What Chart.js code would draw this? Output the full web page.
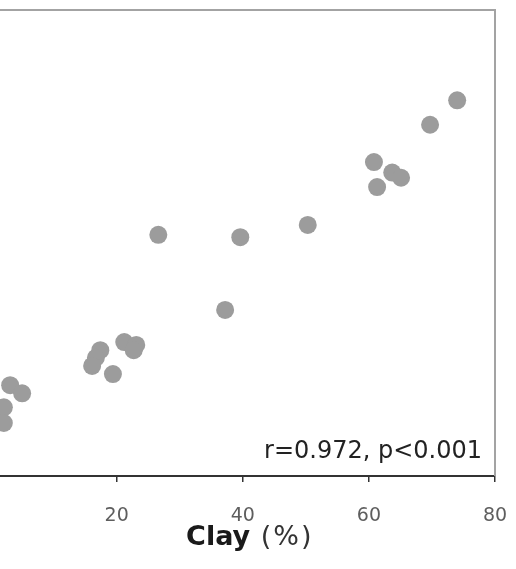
<!DOCTYPE html>
<html>
<head>
<meta charset="utf-8">
<script src="https://cdn.jsdelivr.net/npm/chart.js@4"></script>
<style>
  html, body { margin: 0; padding: 0; background: #fff; overflow: hidden; }
  /* the reference is cropped: the y axis sits off the left edge */
  #wrap { position: absolute; left: -100px; top: 0; width: 616px; height: 569px; }
</style>
</head>
<body>
<div id="wrap"><canvas id="clay-scatter"></canvas></div>
<script>
const clayValues = [74.0, 69.7, 60.8, 63.7, 65.1, 61.3, 26.6, 39.6, 50.3, 37.2, 21.2, 23.1, 22.7, 17.4, 16.7, 16.1, 19.4, 3.1, 5.0, 2.1, 2.1];
const otherValues = [64.5, 60.3, 53.9, 52.1, 51.2, 49.6, 41.4, 41.0, 43.1, 28.5, 23.0, 22.5, 21.6, 21.6, 20.3, 18.9, 17.5, 15.6, 14.2, 11.8, 9.1];
const xTicks = [0, 20, 40, 60, 80];
const xTitle = 'Clay';
const xUnit = ' (%)';
const statsText = 'r=0.972, p<0.001';

window.addEventListener('load', function() {
  const points = clayValues.map((x, i) => ({ x: x, y: otherValues[i] }));

  const framePlugin = {
    id: 'frame',
    beforeDatasetsDraw(chart) {
      const { ctx, chartArea: a } = chart;
      ctx.save();
      ctx.strokeStyle = '#a3a3a3';
      ctx.lineWidth = 2;
      ctx.beginPath();
      ctx.moveTo(a.left, a.top);
      ctx.lineTo(a.right, a.top);
      ctx.lineTo(a.right, a.bottom);
      ctx.stroke();
      ctx.restore();
    },
    afterDraw(chart) {
      const { ctx, chartArea: a } = chart;
      ctx.save();
      // stats label, bottom right inside the box
      ctx.fillStyle = '#222';
      ctx.font = '24px "DejaVu Sans"';
      ctx.textAlign = 'right';
      ctx.textBaseline = 'alphabetic';
      ctx.fillText(statsText, a.right - 13, a.bottom - 18);

      // axis title: bold name + plain unit
      ctx.textAlign = 'left';
      ctx.font = 'bold 27px "DejaVu Sans"';
      const w1 = ctx.measureText(xTitle).width;
      ctx.font = '27px "DejaVu Sans"';
      ctx.letterSpacing = '2px';
      const w2 = ctx.measureText(xUnit).width;
      const cx = (a.left + a.right) / 2 + 7;
      const start = cx - (w1 + w2) / 2;
      const base = a.bottom + 69;
      ctx.fillStyle = '#333';
      ctx.fillText(xUnit, start + w1, base);
      ctx.letterSpacing = '0px';
      ctx.fillStyle = '#1a1a1a';
      ctx.font = 'bold 27px "DejaVu Sans"';
      ctx.fillText(xTitle, start, base);
      ctx.restore();
    }
  };

  const ctx = document.getElementById('clay-scatter').getContext('2d');
  new Chart(ctx, {
    type: 'scatter',
    data: {
      datasets: [{
        label: 'samples',
        data: points,
        backgroundColor: '#9c9c9c',
        borderWidth: 0,
        pointRadius: 9,
        pointHoverRadius: 9,
      }],
    },
    options: {
      responsive: true,
      maintainAspectRatio: false,
      animation: false,
      layout: {
        padding: { left: 90.6, right: 21, top: 10, bottom: 0 },
      },
      scales: {
        x: {
          type: 'linear',
          position: 'bottom',
          min: 0,
          max: 80,
          afterBuildTicks: (scale) => {
            scale.ticks = xTicks.map((v) => ({ value: v }));
          },
          afterFit: (scale) => {
            scale.height = 93;
            scale.paddingLeft = 0;
            scale.paddingRight = 0;
          },
          border: { display: true, color: '#333', width: 2 },
          grid: {
            display: true,
            drawOnChartArea: false,
            drawTicks: true,
            tickLength: 6,
            color: '#333',
            lineWidth: 1.5,
          },
          ticks: {
            color: '#5e5e5e',
            font: { family: 'DejaVu Sans', size: 19 },
            padding: 23,
            maxRotation: 0,
          },
          title: { display: false },
        },
        y: {
          display: false,
          min: 0,
          max: 80,
        },
      },
      plugins: {
        legend: { display: false },
        tooltip: { enabled: false },
      },
    },
    plugins: [framePlugin],
  });
});
</script>
</body>
</html>
